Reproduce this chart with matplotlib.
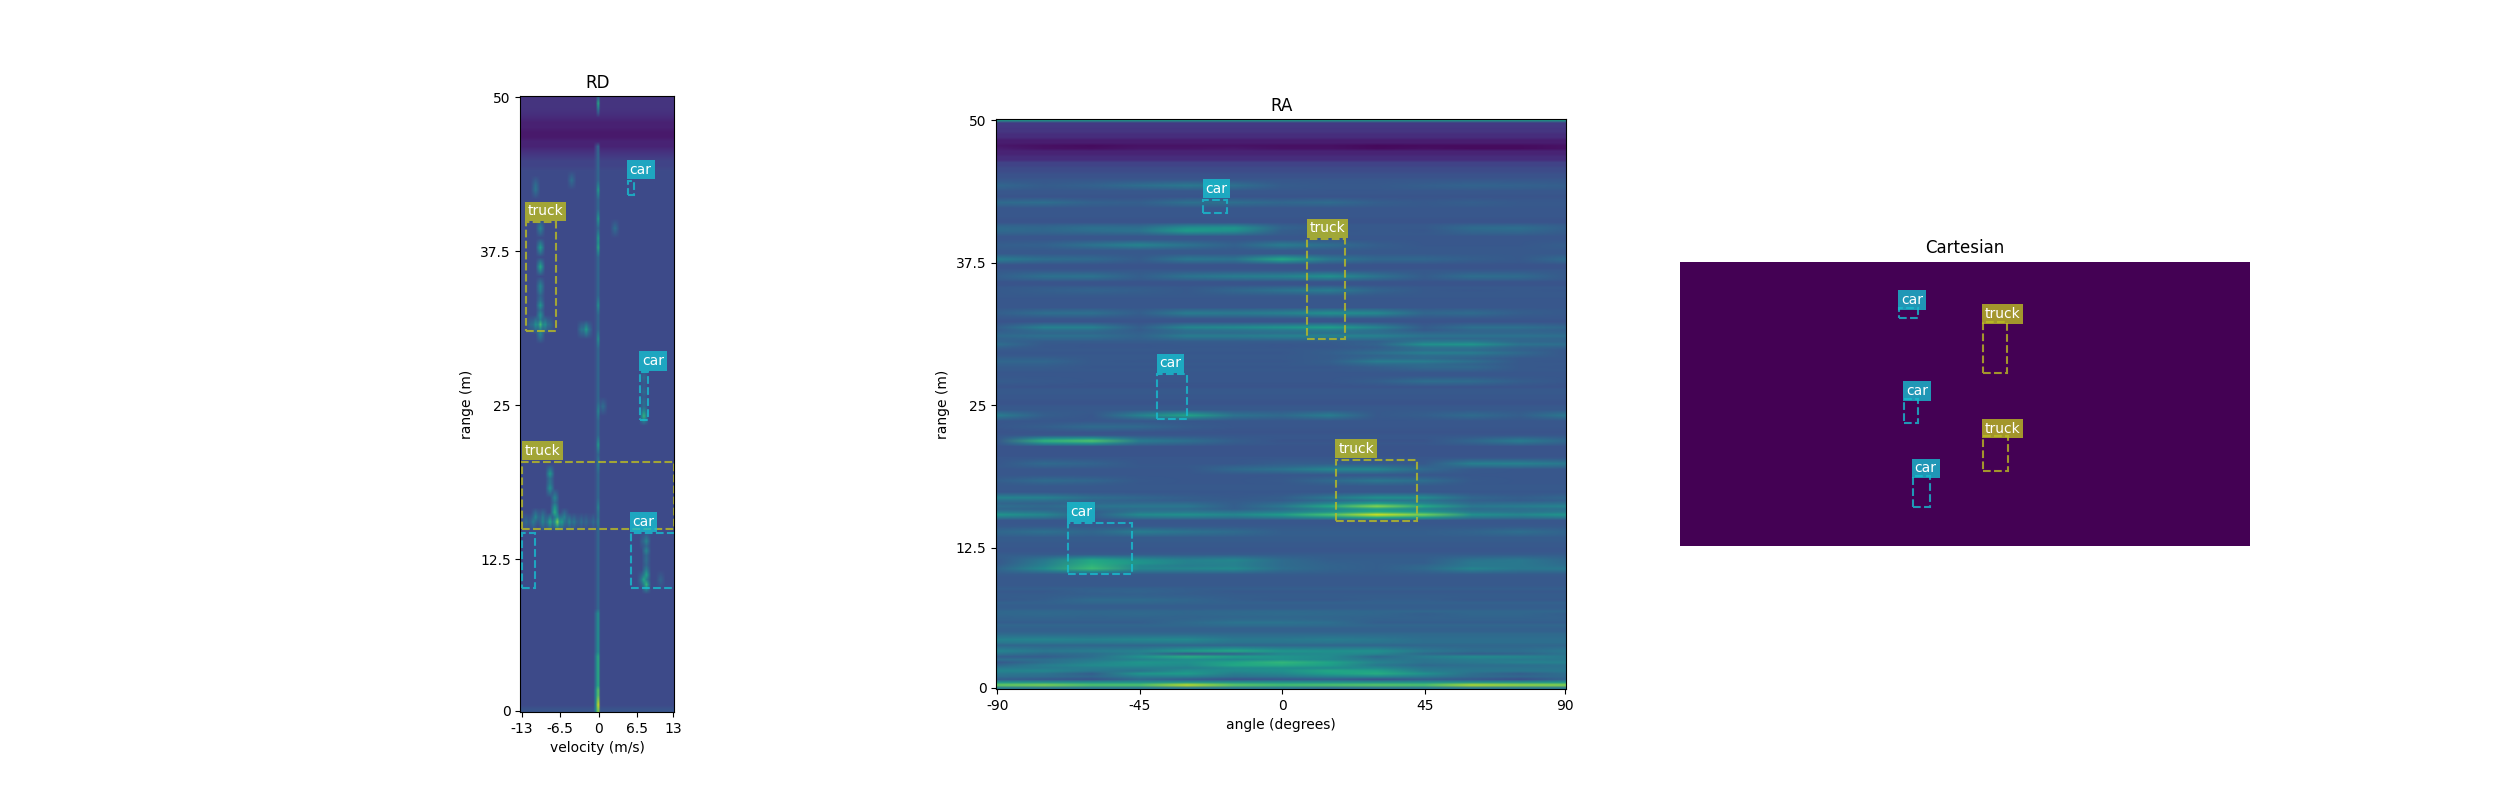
import numpy as np
import matplotlib
matplotlib.use("Agg")
import matplotlib.pyplot as plt
from matplotlib.patches import Rectangle

# ---------- tick labels ----------
RD_XTICK_CELLS = [0, 16, 32, 48, 63]
RD_XTICK_LABELS = ["-13", "-6.5", "0", "6.5", "13"]
RA_XTICK_CELLS = [0, 64, 128, 192, 255]
RA_XTICK_LABELS = ["-90", "-45", "0", "45", "90"]
Y_TICK_CELLS = [0, 63, 127, 191, 255]
Y_TICK_LABELS = ["0", "12.5", "25", "37.5", "50"]

# ---------- annotated boxes (label, x0, x1, range0, range1) ----------
RD_BOXES = [("truck", -12.3, -7.2, 30.95, 39.8), ("car", 4.9, 5.9, 42.0, 43.2),
            ("car", 7.0, 8.4, 23.7, 27.6), ("truck", -12.9, 12.8, 14.8, 20.3),
            ("car", 5.4, 12.9, 10.0, 14.5)]
RD_BOXES_UNLABELLED = [("car", -12.9, -10.7, 10.0, 14.5)]
RA_BOXES = [("car", -25.0, -17.4, 41.85, 43.0), ("truck", 7.9, 19.9, 30.75, 39.5),
            ("car", -39.5, -30.2, 23.7, 27.6), ("truck", 17.0, 42.4, 14.7, 20.1),
            ("car", -67.7, -47.4, 10.0, 14.5)]
CART_BOXES = [("car", -11.6, -8.2, 40.1, 41.9), ("truck", 3.1, 7.3, 30.4, 39.35),
              ("car", -10.7, -8.2, 21.75, 25.85), ("truck", 3.1, 7.6, 13.3, 19.3),
              ("car", -9.2, -6.2, 6.9, 12.3)]

# ---------- RD map: background by range band, then spots ----------
RD_BANDS = [(0.0, 0.5, 0.26), (0.5, 44.5, 0.225), (44.5, 45.2, 0.20), (45.2, 45.7, 0.17),
            (45.7, 46.2, 0.14), (46.2, 46.7, 0.10), (46.7, 47.8, 0.07), (47.8, 48.3, 0.09),
            (48.3, 48.8, 0.12), (48.8, 49.4, 0.14), (49.4, 50.0, 0.15)]
RD_ZERO_BANDS = [(8.0, 46.0, 0.34), (4.5, 8.0, 0.50), (1.5, 4.5, 0.62), (0.0, 1.5, 0.74)]
RD_ZERO_SPOTS = [(49.7, .6), (49.3, .45), (42.6, .55), (40.3, .55), (38.7, .55), (37.7, .6),
                 (33.1, .5), (30.3, .5), (24.5, .46), (21.7, .55), (20.1, .44), (16.7, .46),
                 (15.2, .44), (0.3, .92)]
RD_SPOTS = [(-9.7, 39.2, .45), (-9.7, 37.6, .55), (-9.7, 36.3, .6), (-9.7, 34.8, .46),
            (-9.7, 34.2, .42), (-9.7, 33.1, .52), (-9.7, 32.1, .5), (-9.7, 31.6, .68),
            (-10.5, 31.6, .5), (-9.0, 31.6, .5), (-9.7, 30.9, .45), (-11.3, 31.6, .34),
            (-8.3, 31.6, .34),
            (-2.1, 31.0, .56), (-1.5, 31.0, .38), (-2.7, 31.0, .38), (-10.7, 42.6, .38),
            (-10.7, 43.0, .36), (-4.3, 43.5, .36), (2.7, 39.4, .36), (0.8, 25.0, .36),
            (7.8, 24.0, .66), (7.8, 24.5, .5), (7.8, 25.2, .36), (7.8, 26.0, .35), (7.8, 27.0, .35),
            (-7.1, 15.2, .8), (-7.5, 16.0, .62), (-7.5, 16.7, .54), (-7.5, 17.2, .46),
            (-8.2, 19.3, .54), (-8.2, 18.2, .5), (-8.2, 18.7, .4), (-10.5, 15.7, .46),
            (-9.5, 15.7, .42), (-5.6, 15.7, .44),
            (-12.0, 15.2, .36), (-11.0, 15.2, .42), (-9.5, 15.2, .46), (-8.0, 15.2, .6), (-6.0, 15.2, .55),
            (-5.0, 15.2, .46), (-4.0, 15.2, .4), (-3.0, 15.2, .36), (-2.0, 15.2, .34), (-1.0, 15.2, .34),
            (8.2, 10.4, .66), (7.9, 10.7, .6), (8.2, 11.1, .58), (8.2, 11.6, .44), (8.2, 12.3, .36),
            (8.3, 12.9, .46), (8.3, 13.6, .46), (7.7, 13.7, .35), (10.7, 10.6, .32), (7.2, 10.5, .35)]

# ---------- RA map: background per 0.5 m of range, then streak rows at these angles ----------
RA_ANGLES = [-90, -75, -60, -45, -30, -15, 0, 15, 30, 45, 60, 75, 90]
RA_BASE = [.40, .50, .33, .36, .36, .36, .36, .33, .36, .34, .31, .33, .31, .33, .30, .31, .29, .30, .28, .28,
           .29, .30, .30, .29, .27, .28, .29, .30, .28, .27, .29, .30, .29, .29, .27, .28, .27, .27, .27, .28,
           .27, .26, .26, .27, .27, .26, .27, .27, .28, .28, .26, .27, .28, .26, .27, .27, .28, .28, .28, .28,
           .27, .29, .29, .28, .26, .27, .28, .27, .27, .28, .28, .26, .28, .28, .26, .27, .28, .28, .27, .27,
           .28, .28, .26, .27, .27, .28, .26, .27, .28, .27, .25, .23, .20, .13, .10, .05, .08, .13, .16, .17, .55]
RA_ROWS = {
    47.75: [.06, .04, .03, .05, .05, .05, .04, .04, .02, .03, .03, .03, .05],
    47.5: [.08, .05, .04, .06, .06, .07, .05, .05, .03, .04, .03, .03, .05],
    44.25: [.33, .29, .31, .36, .40, .37, .29, .28, .28, .30, .32, .31, .30],
    42.75: [.34, .36, .31, .30, .37, .36, .33, .35, .30, .28, .30, .28, .28],
    40.5: [.34, .33, .37, .36, .50, .52, .32, .28, .28, .28, .35, .36, .30],
    40.25: [.34, .33, .36, .38, .55, .50, .30, .27, .28, .27, .33, .34, .29],
    39.0: [.30, .31, .38, .45, .38, .31, .42, .36, .30, .27, .27, .27, .30],
    37.75: [.42, .36, .34, .29, .40, .38, .60, .40, .33, .33, .30, .28, .35],
    36.25: [.30, .37, .38, .30, .38, .42, .44, .50, .38, .29, .36, .35, .28],
    35.0: [.28, .30, .32, .30, .28, .33, .38, .42, .32, .28, .27, .28, .27],
    33.0: [.30, .36, .37, .30, .42, .41, .44, .50, .47, .33, .35, .30, .28],
    31.75: [.30, .44, .44, .30, .46, .48, .52, .56, .45, .29, .37, .37, .33],
    31.0: [.34, .37, .37, .32, .42, .42, .44, .45, .44, .38, .38, .38, .36],
    30.25: [.36, .28, .27, .27, .28, .28, .27, .28, .32, .50, .52, .38, .36],
    29.5: [.27, .27, .27, .27, .27, .27, .27, .30, .36, .43, .42, .34, .27],
    28.75: [.33, .33, .28, .27, .27, .27, .27, .30, .42, .42, .36, .28, .27],
    28.25: [.29, .29, .27, .27, .27, .27, .27, .27, .30, .34, .34, .28, .27],
    27.0: [.29, .28, .27, .27, .27, .27, .27, .27, .30, .36, .35, .30, .27],
    24.0: [.42, .30, .27, .44, .58, .38, .34, .42, .28, .30, .35, .30, .40],
    23.0: [.27, .30, .35, .34, .29, .27, .27, .27, .27, .27, .27, .27, .27],
    21.75: [.27, .65, .72, .42, .37, .30, .26, .26, .26, .26, .33, .42, .33],
    19.75: [.27, .34, .32, .27, .27, .27, .30, .30, .29, .28, .43, .44, .40],
    19.25: [.27, .27, .27, .27, .27, .34, .38, .46, .46, .34, .28, .27, .27],
    18.25: [.30, .35, .33, .28, .27, .27, .28, .34, .40, .36, .28, .27, .27],
    16.75: [.45, .44, .36, .33, .30, .28, .30, .40, .50, .48, .33, .30, .33],
    16.0: [.36, .34, .38, .40, .40, .30, .40, .60, .82, .60, .40, .42, .45],
    15.25: [.52, .46, .30, .48, .50, .46, .55, .70, .93, .78, .50, .46, .52],
    13.75: [.33, .37, .33, .42, .38, .35, .30, .30, .30, .30, .32, .36, .32],
    11.25: [.28, .40, .60, .50, .44, .46, .35, .30, .30, .30, .38, .40, .33],
    11.0: [.28, .42, .62, .52, .44, .44, .35, .31, .30, .30, .40, .40, .34],
    10.75: [.30, .44, .65, .46, .42, .44, .35, .32, .30, .33, .40, .40, .36],
    10.5: [.32, .48, .68, .46, .46, .48, .36, .32, .30, .34, .45, .40, .40],
    8.5: [.28, .28, .31, .32, .30, .28, .28, .28, .28, .28, .28, .28, .28],
    7.75: [.28, .30, .35, .35, .33, .30, .28, .28, .30, .30, .28, .28, .28],
    6.5: [.33, .34, .33, .34, .33, .34, .35, .34, .33, .30, .33, .33, .30],
    5.75: [.30, .30, .30, .30, .34, .38, .38, .36, .30, .30, .30, .30, .30],
    4.25: [.44, .45, .44, .46, .47, .40, .40, .42, .40, .36, .36, .36, .36],
    3.25: [.45, .40, .42, .44, .55, .60, .52, .50, .50, .40, .36, .36, .40],
    3.0: [.38, .34, .36, .42, .28, .32, .46, .48, .46, .34, .30, .32, .38],
    2.75: [.30, .30, .36, .50, .62, .56, .52, .48, .34, .42, .48, .46, .40],
    2.25: [.28, .36, .44, .52, .50, .58, .66, .58, .44, .38, .40, .44, .44],
    2.0: [.33, .42, .48, .50, .48, .60, .62, .56, .40, .34, .36, .36, .38],
    1.5: [.45, .46, .40, .38, .50, .48, .50, .60, .58, .42, .40, .40, .40],
    1.25: [.40, .38, .30, .52, .55, .42, .46, .56, .62, .50, .36, .30, .36],
    0.75: [.30, .28, .26, .34, .30, .26, .28, .30, .26, .30, .28, .24, .32],
    0.5: [.52, .50, .50, .50, .52, .50, .50, .50, .50, .50, .50, .50, .52],
    0.25: [.76, .80, .72, .72, .90, .75, .70, .72, .74, .72, .88, .84, .82],
    0.0: [.42, .40, .40, .40, .40, .40, .40, .36, .38, .40, .40, .40, .40],
}

CLASS_COLORS = {"car": "tab:cyan", "truck": "tab:olive"}


def rd_image():
    rows, cols = 128, 64
    step = 50.0 / (rows - 1)
    grid = np.zeros((rows, cols))
    col0 = 32
    for lo, hi, val in RD_BANDS:
        grid[int(round(lo / step)):int(round(hi / step)) + 1, :] = val
    base = grid.copy()
    for lo, hi, val in RD_ZERO_BANDS:
        sl = slice(int(round(lo / step)), int(round(hi / step)) + 1)
        grid[sl, col0] = val
        grid[sl, col0 - 1] = np.maximum(grid[sl, col0 - 1], (val + base[sl, col0]) / 2 - 0.03)
    for r, val in RD_ZERO_SPOTS:
        i = int(round(r / step))
        grid[i, col0] = val
        for k in (i - 1, i + 1):
            if 0 <= k < rows:
                grid[k, col0] = max(grid[k, col0], (val + grid[k, col0]) / 2)
    for v, r, val in RD_SPOTS:
        i, j = int(round(r / step)), int(round(32 + v * 16 / 6.5))
        grid[i, j] = max(grid[i, j], val)
        for di, dj, w in ((0, 1, .5), (0, -1, .5), (1, 0, .5), (-1, 0, .5),
                          (1, 1, .25), (1, -1, .25), (-1, 1, .25), (-1, -1, .25)):
            if 0 <= i + di < rows and 0 <= j + dj < cols:
                b = base[i, j]
                grid[i + di, j + dj] = max(grid[i + di, j + dj], b + (val - b) * w)
    return grid


def ra_image():
    step = 0.25
    rows = int(50 / step) + 1
    grid = np.zeros((rows, len(RA_ANGLES)))
    for i in range(rows):
        grid[i, :] = RA_BASE[i // 2]
    base = grid.copy()
    listed = {int(round(r / step)) for r in RA_ROWS}
    for r, vals in RA_ROWS.items():
        i = int(round(r / step))
        grid[i, :] = vals
        for k in (i - 1, i + 1):
            if 0 <= k < rows and k not in listed:
                grid[k, :] = np.maximum(grid[k, :], (np.array(vals) + base[k, :]) / 2)
    return grid


def rd_x(v):
    return 32 + v * 16 / 6.5


def ra_x(a):
    return 128 + a * 64 / 45


def r_y(r):
    return r * 255 / 50


def draw_box(ax, name, x0, x1, y0, y1, label=True, up=2.9):
    color = CLASS_COLORS[name]
    ax.add_patch(Rectangle((x0, y0), x1 - x0, y1 - y0, fill=False, edgecolor=color,
                           linestyle="--", linewidth=1.5, alpha=0.8))
    if label:
        ax.annotate(name, xy=(x0, y1), xytext=(1.5, up), textcoords="offset points",
                    color="white", fontsize=10, va="bottom", ha="left", clip_on=False,
                    bbox=dict(facecolor=color, alpha=0.8, pad=2, edgecolor="none"))


fig, (ax1, ax2, ax3) = plt.subplots(1, 3, figsize=(25, 8), dpi=100)

ax1.imshow(rd_image(), origin="lower", cmap="viridis", vmin=0, vmax=1, interpolation="bilinear",
           extent=(-0.5, 63.5, -0.5, 255.5), aspect=1)
for name, a, b, c, d in RD_BOXES:
    draw_box(ax1, name, rd_x(a), rd_x(b), r_y(c), r_y(d))
for name, a, b, c, d in RD_BOXES_UNLABELLED:
    draw_box(ax1, name, rd_x(a), rd_x(b), r_y(c), r_y(d), label=False)
ax1.set_xticks(RD_XTICK_CELLS, RD_XTICK_LABELS)
ax1.set_yticks(Y_TICK_CELLS, Y_TICK_LABELS)
ax1.set_xlim(-0.5, 63.5)
ax1.set_ylim(-0.5, 255.5)
ax1.set_xlabel("velocity (m/s)")
ax1.set_ylabel("range (m)")
ax1.set_title("RD")

col_w = 15 * 64 / 45
row_h = 0.25 * 255 / 50
ax2.imshow(ra_image(), origin="lower", cmap="viridis", vmin=0, vmax=1, interpolation="bilinear",
           extent=(ra_x(-90) - col_w / 2, ra_x(90) + col_w / 2, -row_h / 2, 255 + row_h / 2),
           aspect="auto")
for name, a, b, c, d in RA_BOXES:
    draw_box(ax2, name, ra_x(a), ra_x(b), r_y(c), r_y(d))
ax2.set_xticks(RA_XTICK_CELLS, RA_XTICK_LABELS)
ax2.set_yticks(Y_TICK_CELLS, Y_TICK_LABELS)
ax2.set_xlim(-0.5, 255.5)
ax2.set_ylim(-0.5, 255.5)
ax2.set_aspect(1)
ax2.set_xlabel("angle (degrees)")
ax2.set_ylabel("range (m)")
ax2.set_title("RA")

ax3.imshow([[0.0]], cmap="viridis", vmin=0, vmax=1, extent=(-50, 50, 0, 50), aspect=1)
for name, a, b, c, d in CART_BOXES:
    draw_box(ax3, name, a, b, c, d, up=0.7)
ax3.set_title("Cartesian")
ax3.axis("off")

fig.savefig("out.png", dpi=100)
